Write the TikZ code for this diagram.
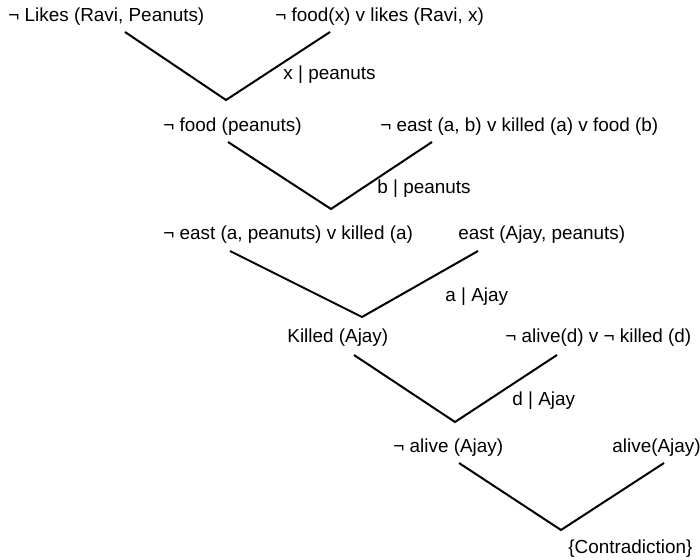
\documentclass[tikz,border=0pt]{standalone}
\usepackage{fontspec}
\setmainfont{Liberation Sans}
\usetikzlibrary{positioning}

\begin{document}
\begin{tikzpicture}[x=0.5pt, y=-0.5pt,
    clause/.style={anchor=base west, inner sep=0pt, font=\fontsize{9.45}{11}\selectfont},
    subst/.style={clause},
    resolve/.style={line width=1pt}]
        \useasboundingbox (0,0) rectangle (700,560);
        % clauses, one row per resolution step
        \node[clause] (c1) at (8,22) {¬ Likes (Ravi, Peanuts)};
        \node[clause] (c2) at (275,22) {¬ food(x) v likes (Ravi, x)};
        \node[clause] (r1) at (163,132) {¬ food (peanuts)};
        \node[clause] (c3) at (380,132) {¬ east (a, b) v killed (a) v food (b)};
        \node[clause] (r2) at (163,240) {¬ east (a, peanuts) v killed (a)};
        \node[clause] (c4) at (458,240) {east (Ajay, peanuts)};
        \node[clause] (r3) at (287,343) {Killed (Ajay)};
        \node[clause] (c5) at (505,343) {¬ alive(d) v ¬ killed (d)};
        \node[clause] (r4) at (393,452) {¬ alive (Ajay)};
        \node[clause] (c6) at (612,452) {alive(Ajay)};
        \node[clause] (r5) at (568,553) {\{Contradiction\}};
        % substitutions
        \node[subst] (s1) at (283,80) {x | peanuts};
        \node[subst] (s2) at (377,194) {b | peanuts};
        \node[subst] (s3) at (445,302) {a | Ajay};
        \node[subst] (s4) at (512,406) {d | Ajay};
        % ends of the V's
        \coordinate (c1b) at (125,32);  \coordinate (c2b) at (330,32);  \coordinate (v1) at (226,100);
        \coordinate (r1b) at (228,142); \coordinate (c3b) at (432,142); \coordinate (v2) at (331,209);
        \coordinate (r2b) at (230,251); \coordinate (c4b) at (478,251); \coordinate (v3) at (362,317);
        \coordinate (r3b) at (354,355); \coordinate (c5b) at (557,355); \coordinate (v4) at (455,422);
        \coordinate (r4b) at (459,463); \coordinate (c6b) at (664,463); \coordinate (v5) at (561,530);
        \draw[resolve] (c1b) -- (v1) -- (c2b);
        \draw[resolve] (r1b) -- (v2) -- (c3b);
        \draw[resolve] (r2b) -- (v3) -- (c4b);
        \draw[resolve] (r3b) -- (v4) -- (c5b);
        \draw[resolve] (r4b) -- (v5) -- (c6b);
      \end{tikzpicture}
\end{document}
